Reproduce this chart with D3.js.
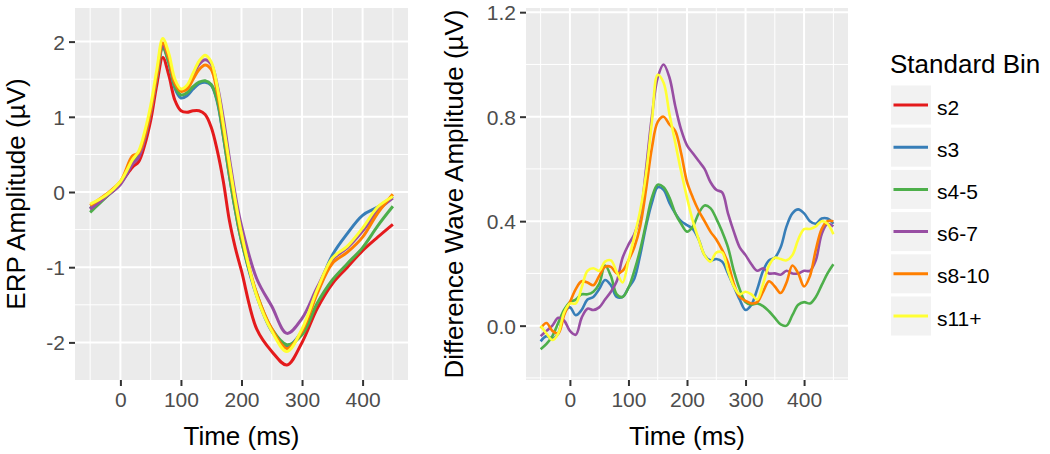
<!DOCTYPE html>
<html>
<head>
<meta charset="utf-8">
<script src="https://cdn.jsdelivr.net/npm/d3@7"></script>
<style>
  body { margin: 0; background: #fff; }
  svg { display: block; font-family: "Liberation Sans", Arial, sans-serif; }
</style>
</head>
<body>
<svg width="1050" height="454"></svg>
<script>
// bins and colours (ColorBrewer Set1)
var bins = ["s2", "s3", "s4-5", "s6-7", "s8-10", "s11+"];
var binColors = ["#E41A1C", "#377EB8", "#4DAF4A", "#984EA3", "#FF7F00", "#FFFF33"];

// left panel: ERP amplitude
var erpTime = [-50, -25, 0, 20, 30, 40, 50, 60, 70, 80, 90, 100, 110, 120, 130, 140, 150, 160, 170, 180, 190, 200, 225, 250, 275, 300, 325, 350, 375, 400, 425, 450];
var erpS2   = [-0.22, -0.07, 0.12, 0.33, 0.40, 0.62, 0.95, 1.42, 1.79, 1.55, 1.22, 1.08, 1.06, 1.08, 1.08, 1.03, 0.86, 0.55, 0.14, -0.38, -0.75, -1.05, -1.82, -2.12, -2.30, -2.00, -1.55, -1.22, -1.00, -0.78, -0.60, -0.43];
var erpS3   = [-0.22, -0.06, 0.12, 0.42, 0.50, 0.73, 1.08, 1.53, 1.93, 1.72, 1.38, 1.25, 1.28, 1.37, 1.44, 1.46, 1.42, 1.20, 0.74, 0.22, -0.25, -0.65, -1.38, -1.85, -2.05, -1.85, -1.32, -0.84, -0.55, -0.31, -0.20, -0.06];
var erpS45  = [-0.27, -0.08, 0.12, 0.40, 0.48, 0.72, 1.08, 1.52, 1.91, 1.72, 1.40, 1.29, 1.32, 1.40, 1.46, 1.48, 1.43, 1.22, 0.75, 0.22, -0.25, -0.65, -1.35, -1.82, -2.03, -1.90, -1.48, -1.17, -0.95, -0.74, -0.45, -0.19];
var erpS67  = [-0.23, -0.07, 0.10, 0.37, 0.46, 0.70, 1.05, 1.52, 1.94, 1.78, 1.45, 1.36, 1.40, 1.55, 1.70, 1.76, 1.70, 1.42, 0.98, 0.45, -0.05, -0.45, -1.15, -1.52, -1.88, -1.68, -1.27, -0.90, -0.74, -0.52, -0.25, -0.08];
var erpS810 = [-0.18, -0.04, 0.14, 0.48, 0.52, 0.74, 1.08, 1.55, 1.98, 1.78, 1.45, 1.34, 1.37, 1.50, 1.63, 1.69, 1.63, 1.32, 0.85, 0.33, -0.15, -0.58, -1.35, -1.82, -2.08, -1.85, -1.35, -0.95, -0.80, -0.60, -0.28, -0.03];
var erpS11  = [-0.16, -0.05, 0.14, 0.43, 0.54, 0.80, 1.15, 1.62, 2.04, 1.84, 1.50, 1.37, 1.42, 1.58, 1.74, 1.82, 1.73, 1.40, 0.90, 0.38, -0.12, -0.55, -1.38, -1.85, -2.12, -1.82, -1.30, -0.88, -0.72, -0.48, -0.20, -0.06];

// right panel: difference wave amplitude, every 10 ms from -50 to 450
var diffTime = d3.range(-50, 451, 10);
var diffS3   = [-0.06, -0.04, -0.05, -0.03, 0.05, 0.07, 0.04, 0.06, 0.10, 0.11, 0.14, 0.175, 0.155, 0.11, 0.11, 0.145, 0.18, 0.27, 0.38, 0.47, 0.53, 0.52, 0.47, 0.43, 0.40, 0.385, 0.37, 0.33, 0.27, 0.25, 0.255, 0.245, 0.20, 0.15, 0.10, 0.06, 0.08, 0.14, 0.21, 0.25, 0.26, 0.30, 0.38, 0.43, 0.445, 0.43, 0.40, 0.39, 0.41, 0.41, 0.39];
var diffS45  = [-0.09, -0.07, -0.04, 0.01, 0.06, 0.09, 0.10, 0.12, 0.12, 0.13, 0.16, 0.23, 0.19, 0.12, 0.11, 0.145, 0.21, 0.29, 0.39, 0.49, 0.54, 0.53, 0.49, 0.43, 0.39, 0.36, 0.38, 0.43, 0.46, 0.45, 0.41, 0.36, 0.30, 0.21, 0.14, 0.09, 0.08, 0.085, 0.075, 0.055, 0.03, 0.005, 0.00, 0.04, 0.08, 0.09, 0.085, 0.11, 0.155, 0.20, 0.235];
var diffS67  = [-0.04, -0.02, 0.00, 0.03, 0.02, -0.02, -0.035, 0.03, 0.065, 0.06, 0.07, 0.10, 0.13, 0.17, 0.26, 0.31, 0.35, 0.42, 0.60, 0.80, 0.95, 1.00, 0.95, 0.84, 0.75, 0.69, 0.66, 0.63, 0.60, 0.55, 0.52, 0.51, 0.43, 0.36, 0.30, 0.27, 0.235, 0.21, 0.22, 0.20, 0.20, 0.195, 0.21, 0.20, 0.20, 0.21, 0.21, 0.25, 0.35, 0.39, 0.38];
var diffS810 = [-0.01, 0.01, -0.02, -0.03, 0.04, 0.09, 0.14, 0.17, 0.165, 0.155, 0.19, 0.225, 0.225, 0.20, 0.21, 0.25, 0.30, 0.38, 0.52, 0.68, 0.78, 0.80, 0.77, 0.745, 0.66, 0.55, 0.49, 0.44, 0.40, 0.36, 0.33, 0.29, 0.24, 0.16, 0.11, 0.095, 0.085, 0.09, 0.13, 0.17, 0.15, 0.125, 0.165, 0.23, 0.20, 0.15, 0.19, 0.29, 0.37, 0.40, 0.40];
var diffS11  = [0.00, -0.03, -0.055, -0.03, 0.05, 0.085, 0.085, 0.145, 0.21, 0.22, 0.21, 0.245, 0.25, 0.205, 0.165, 0.25, 0.34, 0.44, 0.58, 0.78, 0.96, 0.93, 0.81, 0.70, 0.59, 0.49, 0.40, 0.33, 0.27, 0.245, 0.28, 0.28, 0.21, 0.15, 0.12, 0.13, 0.12, 0.10, 0.16, 0.23, 0.26, 0.255, 0.25, 0.27, 0.33, 0.37, 0.37, 0.38, 0.40, 0.39, 0.35];

var xTicks = [0, 100, 200, 300, 400];
var erpTicks = [-2, -1, 0, 1, 2];
var diffTicks = [0.0, 0.4, 0.8, 1.2];

var svg = d3.select("svg");

var erpSeries = [
  { bin: "s2", values: erpS2 }, { bin: "s3", values: erpS3 }, { bin: "s4-5", values: erpS45 },
  { bin: "s6-7", values: erpS67 }, { bin: "s8-10", values: erpS810 }, { bin: "s11+", values: erpS11 }
];
var diffSeries = [
  { bin: "s3", values: diffS3 }, { bin: "s4-5", values: diffS45 }, { bin: "s6-7", values: diffS67 },
  { bin: "s8-10", values: diffS810 }, { bin: "s11+", values: diffS11 }
];

var color = d3.scaleOrdinal().domain(bins).range(binColors);

// plain hyphen minus, like R does
function hyphen(f) {
  return function(d) { return f(d).replace("\u2212", "-"); };
}

function panel(opts) {
  var x = d3.scaleLinear().domain([-75, 475]).range([opts.left, opts.right]);
  var y = d3.scaleLinear().domain(opts.yDomain).range([opts.bottom, opts.top]);
  var g = svg.append("g");

  g.append("rect")
      .attr("x", opts.left).attr("y", opts.top)
      .attr("width", opts.right - opts.left).attr("height", opts.bottom - opts.top)
      .attr("fill", "#EBEBEB");

  // minor grid
  g.selectAll(".vminor").data([-50, 50, 150, 250, 350, 450]).enter().append("line")
      .attr("x1", function(d) { return x(d); }).attr("x2", function(d) { return x(d); })
      .attr("y1", opts.top).attr("y2", opts.bottom)
      .attr("stroke", "#fff").attr("stroke-width", 1);
  g.selectAll(".hminor").data(opts.minorY).enter().append("line")
      .attr("x1", opts.left).attr("x2", opts.right)
      .attr("y1", function(d) { return y(d); }).attr("y2", function(d) { return y(d); })
      .attr("stroke", "#fff").attr("stroke-width", 1);
  // major grid
  g.selectAll(".vmajor").data(xTicks).enter().append("line")
      .attr("x1", function(d) { return x(d); }).attr("x2", function(d) { return x(d); })
      .attr("y1", opts.top).attr("y2", opts.bottom)
      .attr("stroke", "#fff").attr("stroke-width", 2);
  g.selectAll(".hmajor").data(opts.ticks).enter().append("line")
      .attr("x1", opts.left).attr("x2", opts.right)
      .attr("y1", function(d) { return y(d); }).attr("y2", function(d) { return y(d); })
      .attr("stroke", "#fff").attr("stroke-width", 2);

  var line = d3.line()
      .x(function(d) { return x(d[0]); })
      .y(function(d) { return y(d[1]); })
      .curve(d3.curveCatmullRom.alpha(0.5));

  g.selectAll(".wave").data(opts.series).enter().append("path")
      .attr("d", function(s) { return line(s.values.map(function(v, i) { return [opts.time[i], v]; })); })
      .attr("fill", "none")
      .attr("stroke", function(s) { return color(s.bin); })
      .attr("stroke-width", opts.lineWidth)
      .attr("stroke-linejoin", "round");

  // axes
  var xAxis = g.append("g")
      .attr("transform", "translate(0," + opts.bottom + ")")
      .call(d3.axisBottom(x).tickValues(xTicks).tickSize(6).tickPadding(6));
  var yAxis = g.append("g")
      .attr("transform", "translate(" + opts.left + ",0)")
      .call(d3.axisLeft(y).tickValues(opts.ticks).tickFormat(hyphen(opts.fmt)).tickSize(6).tickPadding(4));
  [xAxis, yAxis].forEach(function(a) {
    a.select(".domain").remove();
    a.selectAll(".tick line").attr("stroke", "#333").attr("stroke-width", 2);
    a.selectAll(".tick text").attr("fill", "#4D4D4D").style("font-size", "21px")
        .style("font-family", "'Liberation Sans', Arial, sans-serif");
  });
  xAxis.selectAll(".tick text").attr("dy", "0.71em");
  yAxis.selectAll(".tick text").attr("dy", "0.36em");

  g.append("text")
      .attr("x", (opts.left + opts.right) / 2).attr("y", 445)
      .attr("text-anchor", "middle").style("font-size", "26px")
      .text("Time (ms)");
  g.append("text")
      .attr("transform", "translate(" + opts.titleX + "," + (opts.top + opts.bottom) / 2 + ") rotate(-90)")
      .attr("text-anchor", "middle").style("font-size", "26px")
      .text(opts.title);
}

panel({
  left: 75, right: 408, top: 8, bottom: 380,
  yDomain: [-2.5, 2.447], ticks: erpTicks, minorY: [-1.5, -0.5, 0.5, 1.5],
  fmt: d3.format("d"), time: erpTime, series: erpSeries, lineWidth: 3,
  title: "ERP Amplitude (\u00B5V)", titleX: 25
});

panel({
  left: 526, right: 848, top: 8, bottom: 380,
  yDomain: [-0.208, 1.216], ticks: diffTicks, minorY: [-0.2, 0.2, 0.6, 1.0],
  fmt: d3.format(".1f"), time: diffTime, series: diffSeries, lineWidth: 2.6,
  title: "Difference Wave Amplitude (\u00B5V)", titleX: 463
});

// legend
var legend = svg.append("g");
legend.append("text")
    .attr("x", 890).attr("y", 73)
    .style("font-size", "26px")
    .text("Standard Bin");

var key = legend.selectAll(".key").data(bins).enter().append("g")
    .attr("transform", function(d, i) { return "translate(891," + (105 + i * 42.2) + ")"; });
key.append("rect")
    .attr("x", 0).attr("y", -19.5).attr("width", 40).attr("height", 39)
    .attr("fill", "#F2F2F2");
key.append("line")
    .attr("x1", 2.5).attr("x2", 37).attr("y1", 0).attr("y2", 0)
    .attr("stroke", function(d) { return color(d); })
    .attr("stroke-width", 3);
key.append("text")
    .attr("x", 46).attr("y", 9.5)
    .style("font-size", "21px")
    .text(function(d) { return d; });
</script>
</body>
</html>
